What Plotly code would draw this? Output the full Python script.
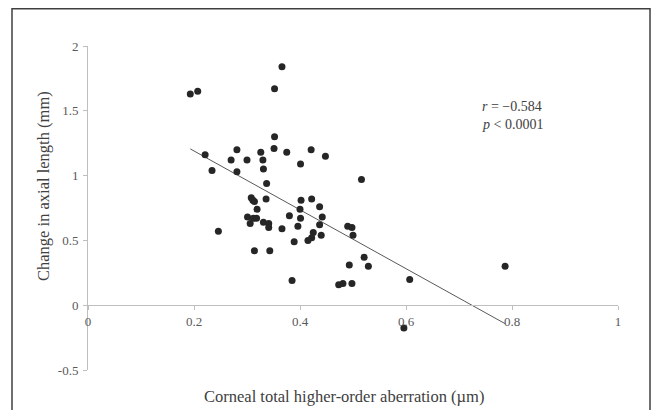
import plotly.graph_objects as go

# Corneal total higher-order aberration (µm)
hoa = [0.193, 0.207, 0.366, 0.352, 0.352, 0.351, 0.375, 0.421, 0.448, 0.401,
       0.516, 0.221, 0.234, 0.270, 0.281, 0.281, 0.300, 0.326, 0.330, 0.331,
       0.337, 0.336, 0.308, 0.311, 0.314, 0.319, 0.301, 0.306, 0.312, 0.318,
       0.331, 0.341, 0.341, 0.314, 0.343, 0.246, 0.366, 0.380, 0.389, 0.385,
       0.400, 0.402, 0.401, 0.396, 0.422, 0.437, 0.442, 0.437, 0.440, 0.425,
       0.422, 0.415, 0.490, 0.498, 0.500, 0.493, 0.521, 0.529, 0.473, 0.481,
       0.498, 0.607, 0.596, 0.787]
# Change in axial length (mm)
axl = [1.63, 1.65, 1.84, 1.67, 1.30, 1.21, 1.18, 1.20, 1.15, 1.09,
       0.97, 1.16, 1.04, 1.12, 1.20, 1.03, 1.12, 1.18, 1.12, 1.05,
       0.94, 0.82, 0.83, 0.81, 0.80, 0.74, 0.68, 0.63, 0.67, 0.67,
       0.64, 0.63, 0.60, 0.42, 0.42, 0.57, 0.59, 0.69, 0.49, 0.19,
       0.74, 0.81, 0.67, 0.61, 0.82, 0.76, 0.68, 0.62, 0.54, 0.56,
       0.52, 0.50, 0.61, 0.60, 0.54, 0.31, 0.37, 0.30, 0.157, 0.167,
       0.167, 0.198, -0.175, 0.30]

# Linear trend
trend_slope = -2.27
trend_intercept = 1.644

x_ticks = [0, 0.2, 0.4, 0.6, 0.8, 1]
x_tick_labels = ["0", "0.2", "0.4", "0.6", "0.8", "1"]
y_ticks = [-0.5, 0, 0.5, 1, 1.5, 2]
y_tick_labels = ["-0.5", "0", "0.5", "1", "1.5", "2"]

serif = "Liberation Serif, Times New Roman, serif"

x0, x1 = min(hoa), max(hoa)
trend_x = [x0, x1]
trend_y = [trend_intercept + trend_slope * v for v in trend_x]

fig = go.Figure()
fig.add_trace(go.Scatter(x=trend_x, y=trend_y, mode="lines",
                         line=dict(color="#595959", width=1), hoverinfo="skip"))
fig.add_trace(go.Scatter(x=hoa, y=axl, mode="markers",
                         marker=dict(color="#262626", size=7)))

fig.update_layout(
    width=643, height=402,
    margin=dict(l=80, r=33, t=38, b=40),
    paper_bgcolor="white", plot_bgcolor="white",
    showlegend=False,
    xaxis=dict(range=[0, 1], tickvals=x_ticks, ticktext=x_tick_labels,
               showgrid=False, zeroline=False, showline=True,
               linecolor="#bfbfbf", linewidth=1,
               ticks="outside", ticklen=4, tickcolor="#bfbfbf",
               anchor="free", position=0.2,
               tickfont=dict(family=serif, size=13, color="#595959")),
    yaxis=dict(range=[-0.5, 2], tickvals=y_ticks, ticktext=y_tick_labels,
               showgrid=False, zeroline=False, showline=True,
               linecolor="#bfbfbf", linewidth=1,
               ticks="outside", ticklen=4, tickcolor="#bfbfbf",
               ticklabelstandoff=2,
               tickfont=dict(family=serif, size=13, color="#595959")),
    shapes=[dict(type="rect", xref="paper", yref="paper",
                 x0=-0.1434, x1=1.0604, y0=-0.16, y1=1.115,
                 line=dict(color="#404040", width=1.5))],
    annotations=[
        dict(text="Corneal total higher-order aberration (µm)", xref="paper", yref="paper",
             x=0.4826, y=-0.083, showarrow=False, xanchor="center", yanchor="middle",
             font=dict(family=serif, size=16.5, color="#404040")),
        dict(text="Change in axial length (mm)", xref="paper", yref="paper",
             x=(44 - 88) / 530, y=0.568, showarrow=False, textangle=-90,
             xanchor="center", yanchor="middle",
             font=dict(family=serif, size=16.5, color="#404040")),
        dict(text="<i>r</i> = \u22120.584", xref="paper", yref="paper",
             x=(480 - 88) / 530, y=(370 - 106) / 324, showarrow=False,
             xanchor="left", yanchor="middle",
             font=dict(family=serif, size=14, color="#404040")),
        dict(text="<i>p</i> < 0.0001", xref="paper", yref="paper",
             x=(480 - 88) / 530, y=(370 - 125) / 324, showarrow=False,
             xanchor="left", yanchor="middle",
             font=dict(family=serif, size=14, color="#404040")),
    ],
)

fig.write_html("out.html")
